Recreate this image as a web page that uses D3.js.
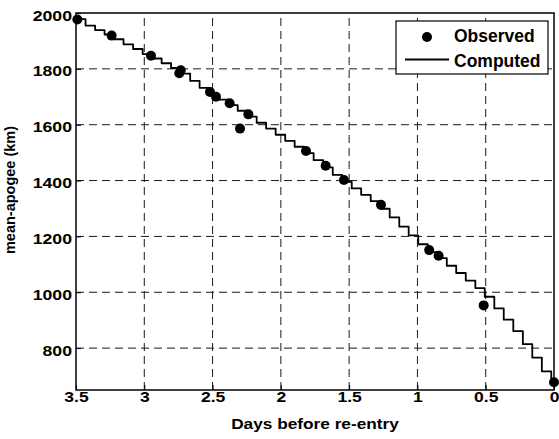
<!DOCTYPE html>
<html><head><meta charset="utf-8">
<script src="https://cdn.jsdelivr.net/npm/d3@7"></script>
<style>body{margin:0;background:#fff}svg{display:block}</style>
</head><body>
<svg id="chart" width="559" height="439"></svg>
<script>
// ---- data ----
const xTicks = [3.5, 3, 2.5, 2, 1.5, 1, 0.5, 0];
const yTicks = [800, 1000, 1200, 1400, 1600, 1800, 2000];
const obsDays   = [3.49, 3.239, 2.951, 2.733, 2.744, 2.519, 2.475, 2.375, 2.299, 2.238, 1.816, 1.672, 1.538, 1.267, 0.914, 0.845, 0.515, 0.0];
const obsApogee = [1977, 1919, 1847, 1795, 1784, 1717, 1700, 1677, 1586, 1637, 1506, 1453, 1402, 1313, 1151, 1131, 953, 678];
const compDays = [3.5, 3.430, 3.360, 3.291, 3.221, 3.152, 3.082, 3.012, 2.943, 2.873, 2.804, 2.734, 2.664, 2.595, 2.525, 2.456, 2.386, 2.316, 2.247, 2.177, 2.108, 2.038, 1.968, 1.899, 1.829, 1.760, 1.690, 1.620, 1.551, 1.481, 1.412, 1.342, 1.272, 1.203, 1.133, 1.064, 0.994, 0.924, 0.855, 0.785, 0.716, 0.646, 0.576, 0.507, 0.437, 0.368, 0.298, 0.228, 0.159, 0.089, 0.020, 0];
const compApogee = [1978, 1955, 1939, 1923, 1906, 1888, 1871, 1853, 1837, 1820, 1803, 1783, 1757, 1732, 1709, 1690, 1670, 1650, 1629, 1607, 1586, 1564, 1542, 1521, 1498, 1473, 1447, 1420, 1395, 1372, 1349, 1326, 1299, 1268, 1235, 1204, 1172, 1144, 1122, 1095, 1069, 1042, 1015, 984, 942, 902, 861, 814, 766, 717, 680, 680];
const seriesNames = ["Observed", "Computed"];
const xTitle = "Days before re-entry";
const yTitle = "mean-apogee (km)";

// ---- layout ----
const L = 76, R = 554, T = 13, B = 390;
const FONT = "'Liberation Sans', Arial, Helvetica, sans-serif";
const svg = d3.select("#chart");

const x = d3.scaleLinear().domain([3.5, 0]).range([L, R]);
const y = d3.scaleLinear().domain([650, 2000]).range([B, T]);

// grid
const grid = svg.append("g").attr("stroke", "#1a1a1a").attr("stroke-width", 1).attr("stroke-dasharray", "8,5");
grid.selectAll("line.v").data(xTicks.filter(d => d !== 3.5 && d !== 0)).join("line")
  .attr("x1", d => x(d)).attr("x2", d => x(d)).attr("y1", B).attr("y2", T);
grid.selectAll("line.h").data(yTicks.filter(d => d !== 2000)).join("line")
  .attr("x1", L).attr("x2", R).attr("y1", d => y(d)).attr("y2", d => y(d));

// axes
const xAxis = svg.append("g").attr("transform", `translate(0,${B})`)
  .call(d3.axisBottom(x).tickValues(xTicks).tickFormat(d => String(d)).tickSize(-5).tickPadding(0));
const yAxis = svg.append("g").attr("transform", `translate(${L},0)`)
  .call(d3.axisLeft(y).tickValues(yTicks).tickFormat(d => String(d)).tickSize(-5).tickPadding(0));
[xAxis, yAxis].forEach(a => {
  a.select(".domain").remove();
  a.selectAll(".tick line").attr("stroke", "#000").attr("stroke-width", 1);
  a.selectAll("text").attr("font-family", FONT).attr("font-weight", "bold")
    .attr("font-size", 15).attr("fill", "#000");
});
xAxis.selectAll("text").attr("y", 12).attr("dy", null).attr("transform", "scale(1.17,1)");
yAxis.selectAll("text").attr("x", -4 / 1.18).attr("y", 7).attr("dy", null).attr("transform", "scale(1.18,1)");

// frame
svg.append("rect").attr("x", L).attr("y", T).attr("width", R - L).attr("height", B - T)
  .attr("fill", "none").attr("stroke", "#000").attr("stroke-width", 1.5);

// computed staircase
const comp = compDays.map((d, i) => [d, compApogee[i]]);
svg.append("path").datum(comp)
  .attr("d", d3.line().x(d => x(d[0])).y(d => y(d[1])).curve(d3.curveStepAfter))
  .attr("fill", "none").attr("stroke", "#000").attr("stroke-width", 1.8).attr("stroke-linejoin", "round");

// observed
svg.append("g").selectAll("circle").data(obsDays.map((d, i) => [d, obsApogee[i]])).join("circle")
  .attr("cx", d => x(d[0])).attr("cy", d => y(d[1])).attr("r", 5).attr("fill", "#000");

// titles
svg.append("text").attr("transform", `translate(${(L + R) / 2},429) scale(1.15,1)`)
  .attr("text-anchor", "middle").attr("font-family", FONT).attr("font-weight", "bold").attr("font-size", 15)
  .text(xTitle);
svg.append("text").attr("transform", `translate(15,190) rotate(-90) scale(1,1.06)`)
  .attr("text-anchor", "middle").attr("font-family", FONT).attr("font-weight", "bold").attr("font-size", 14.5)
  .text(yTitle);

// legend
const lg = svg.append("g");
lg.append("rect").attr("x", 396).attr("y", 21).attr("width", 152).attr("height", 53)
  .attr("fill", "#fff").attr("stroke", "#000").attr("stroke-width", 1.2);
lg.append("circle").attr("cx", 427).attr("cy", 37).attr("r", 5).attr("fill", "#000");
lg.append("line").attr("x1", 405).attr("x2", 449).attr("y1", 59.5).attr("y2", 59.5)
  .attr("stroke", "#000").attr("stroke-width", 1.8);
lg.selectAll("text").data(seriesNames).join("text")
  .attr("x", 454).attr("y", (d, i) => i === 0 ? 42 : 67)
  .attr("font-family", FONT).attr("font-weight", "bold").attr("font-size", 17.5).text(d => d);
</script>
</body></html>
